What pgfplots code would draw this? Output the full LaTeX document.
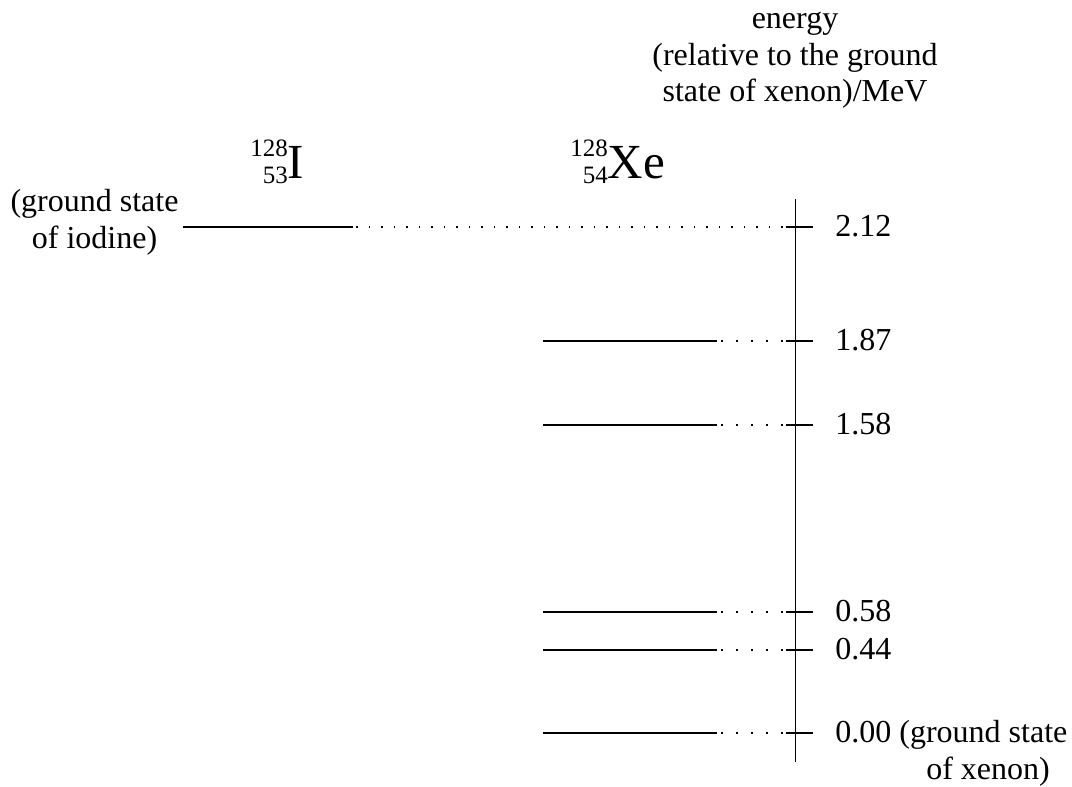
\documentclass[border=0pt]{standalone}
\usepackage{pgfplots}
\pgfplotsset{compat=1.18}
\usepackage{fontspec}
\setmainfont{Liberation Serif}
\newcommand{\nuc}[3]{{\fontsize{12.5}{13.5}\selectfont\renewcommand{\arraystretch}{1}\raisebox{-2.5pt}{\begin{tabular}[b]{@{}r@{}}#1\\#2\end{tabular}}}{\fontsize{24.5}{28}\selectfont #3}}
\begin{document}
\begin{tikzpicture}[font=\fontsize{16}{19}\selectfont,
  lev/.style={black, line width=0.9pt},
  dotx/.style={black, line width=0.9pt, dash pattern=on 0.9pt off 6.6pt, dash phase=-2pt},
  doti/.style={black, line width=0.9pt, dash pattern=on 0.9pt off 5.35pt, dash phase=-1.5pt},
  lab/.style={anchor=base west, inner sep=0pt},
  txt/.style={anchor=base, inner sep=0pt}]
\begin{axis}[hide axis, scale only axis, width=536pt, height=391.5pt,
  xmin=0, xmax=1072, ymin=0, ymax=783, y dir=reverse, clip=false]
\path (rel axis cs:0,0) rectangle (rel axis cs:1,1);
% energy axis
\addplot[lev] coordinates {(795.5,199) (795.5,762)};
% iodine ground state (2.12 MeV)
\addplot[lev] coordinates {(183,227) (353,227)};
\addplot[doti] coordinates {(353,227) (786,227)};
\addplot[lev] coordinates {(786,227) (813,227)};
% xenon levels 1.87
\addplot[lev] coordinates {(543,341) (717,341)};
\addplot[dotx] coordinates {(717,341) (786,341)};
\addplot[lev] coordinates {(786,341) (813,341)};
% 1.58
\addplot[lev] coordinates {(543,425) (717,425)};
\addplot[dotx] coordinates {(717,425) (786,425)};
\addplot[lev] coordinates {(786,425) (813,425)};
% 0.58
\addplot[lev] coordinates {(543,612) (717,612)};
\addplot[dotx] coordinates {(717,612) (786,612)};
\addplot[lev] coordinates {(786,612) (813,612)};
% 0.44
\addplot[lev] coordinates {(543,650) (717,650)};
\addplot[dotx] coordinates {(717,650) (786,650)};
\addplot[lev] coordinates {(786,650) (813,650)};
% 0.00
\addplot[lev] coordinates {(543,733) (717,733)};
\addplot[dotx] coordinates {(717,733) (786,733)};
\addplot[lev] coordinates {(786,733) (813,733)};
% labels
\node[lab] at (axis cs:835,236) {2.12};
\node[lab] at (axis cs:835,350) {1.87};
\node[lab] at (axis cs:835,434) {1.58};
\node[lab] at (axis cs:835,621) {0.58};
\node[lab] at (axis cs:835,659) {0.44};
\node[lab] at (axis cs:835,742) {0.00 (ground state};
\node[txt] at (axis cs:988,779.5) {of xenon)};
\node[txt] at (axis cs:94.5,211) {(ground state};
\node[txt] at (axis cs:94.5,248) {of iodine)};
\node[txt] at (axis cs:795,28) {energy};
\node[txt] at (axis cs:795,65) {(relative to the ground};
\node[txt] at (axis cs:795,101.5) {state of xenon)/MeV};
\node[anchor=base west, inner sep=0pt] at (axis cs:250,178) {\nuc{128}{53}{I}};
\node[anchor=base west, inner sep=0pt] at (axis cs:570,178) {\nuc{128}{54}{Xe}};
\end{axis}
\end{tikzpicture}
\end{document}
